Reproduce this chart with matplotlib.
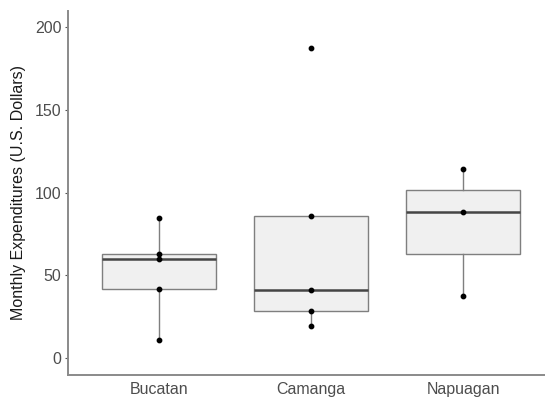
import matplotlib.pyplot as plt
import numpy as np

villages = ['Bucatan', 'Camanga', 'Napuagan']
bucatan = [11.0, 41.4, 60.0, 62.5, 84.4]
camanga = [18.9, 28.2, 41.0, 85.6, 187.6]
napuagan = [37.6, 88.5, 114.2]
yticks = [0, 50, 100, 150, 200]

plt.rcParams['font.family'] = ['Liberation Sans', 'DejaVu Sans']

data = [bucatan, camanga, napuagan]
pos = np.arange(1, len(villages) + 1)

fig = plt.figure(figsize=(5.45, 3.98), dpi=100)
ax = fig.add_axes([0.1242, 0.0585, 0.8929, 0.9139])

box_col = '#7f7f7f'
ax.boxplot(data, positions=pos, widths=0.75, patch_artist=True, showfliers=False,
           boxprops=dict(facecolor='#f0f0f0', edgecolor=box_col, linewidth=1.0),
           whiskerprops=dict(color=box_col, linewidth=1.0),
           capprops=dict(linewidth=0),
           medianprops=dict(color='#454545', linewidth=1.8))

for p, vals in zip(pos, data):
    ax.scatter([p] * len(vals), vals, s=10, color='black', zorder=3)

ax.set_xlim(0.4, 3.6)
ax.set_ylim(-10.3, 209.9)
ax.set_xticks(pos)
ax.set_xticklabels(villages)
ax.set_yticks(yticks)
ax.tick_params(axis='x', length=0, pad=5, labelsize=11.5, labelcolor='#4d4d4d')
ax.tick_params(axis='y', length=2.5, width=0.8, color='#555555', pad=2,
               labelsize=11.5, labelcolor='#4d4d4d')
ax.set_ylabel('Monthly Expenditures (U.S. Dollars)', fontsize=11.5, color='#1a1a1a', labelpad=6)

for s in ['top', 'right']:
    ax.spines[s].set_visible(False)
for s in ['left', 'bottom']:
    ax.spines[s].set_color('#8a8a8a')
    ax.spines[s].set_linewidth(1.4)

fig.savefig('out.png', dpi=100)
